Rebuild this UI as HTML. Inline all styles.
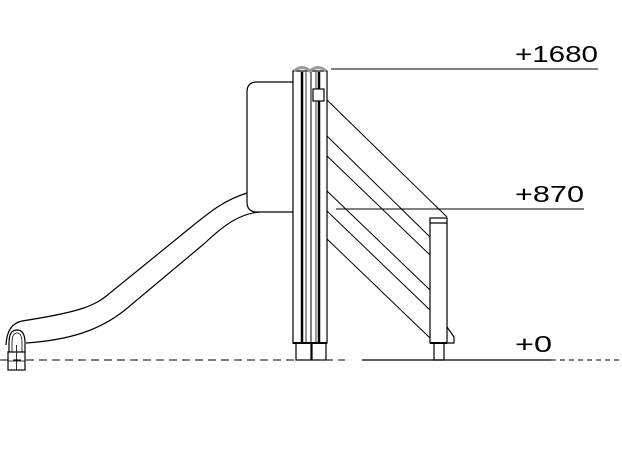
<!DOCTYPE html>
<html><head><style>html,body{margin:0;padding:0;background:#fff}</style></head>
<body>
<svg width="622" height="462" viewBox="0 0 622 462" xmlns="http://www.w3.org/2000/svg" style="display:block">
<g fill="none" stroke="#000" stroke-width="1.2">
<line x1="0" y1="360" x2="345" y2="360" stroke-dasharray="8,5" stroke-width="1"/>
<line x1="362" y1="360" x2="551" y2="360" stroke-width="1.2"/>
<line x1="551" y1="360" x2="622" y2="360" stroke-dasharray="5,4" stroke-width="1"/>
<line x1="331" y1="69" x2="598" y2="69" stroke-width="1"/>
<line x1="336" y1="209" x2="584" y2="209" stroke-width="1"/>
<path d="M293,82 H257 Q247,82 247,92 V202 Q247,212 257,212 H293"/>
<path d="M247,193 C225,200 212,210 190,228 L110,293 C95,306 80,312 22,321 Q7,324 6,345"/>
<path d="M259,212 C240,214 225,224 205,243 L125,310 C100,330 70,340 26,343"/>
<path d="M9,352 V343 Q9,330 17,330 Q25,330 25,343 V352"/>
<path d="M12,352 V343 Q12,333 17,333 Q22,333 22,343 V352" stroke-width="0.8"/>
<rect x="8" y="352" width="17" height="18"/>
<line x1="16.5" y1="345" x2="16.5" y2="370" stroke-width="0.8"/>
<line x1="8" y1="361" x2="25" y2="361" stroke-width="0.8"/>
<rect x="293" y="71" width="34" height="272" fill="#fff"/>
<line x1="302" y1="72" x2="302" y2="343" stroke-width="2.5"/>
<line x1="319" y1="72" x2="319" y2="343" stroke-width="2.5"/>
<line x1="306" y1="72" x2="306" y2="343" stroke-width="0.8"/>
<line x1="311" y1="72" x2="311" y2="343" stroke-width="1"/>
<line x1="316" y1="72" x2="316" y2="343" stroke-width="0.8"/>
<path d="M294,71 Q302,64 310,71 Q318,64 326,71" stroke="#999" stroke-width="3"/>
<rect x="313" y="89" width="11" height="12" fill="#fff"/>
<line x1="293" y1="343" x2="327" y2="343" stroke-width="2"/>
<rect x="296" y="343" width="15" height="17"/>
<rect x="312" y="343" width="14" height="17"/>
<line x1="327" y1="100" x2="447" y2="217" stroke-width="1"/>
<line x1="327" y1="136" x2="430" y2="237" stroke-width="1"/>
<line x1="327" y1="156" x2="430" y2="255" stroke-width="1"/>
<line x1="327" y1="191" x2="430" y2="290" stroke-width="1"/>
<line x1="327" y1="211" x2="430" y2="310" stroke-width="1"/>
<line x1="327" y1="239" x2="430" y2="338" stroke-width="1"/>
<rect x="430" y="218" width="17" height="125" fill="#fff"/>
<line x1="430" y1="223" x2="447" y2="223"/>
<path d="M447,327 L454,337 V343 H447"/>
<line x1="430" y1="343" x2="447" y2="343" stroke-width="2"/>
<rect x="434" y="343" width="10" height="17"/>
</g>
<g font-family="'Liberation Sans', 'DejaVu Sans', sans-serif" font-size="23" fill="#000">
<text x="515" y="62" textLength="83" lengthAdjust="spacingAndGlyphs">+1680</text>
<text x="515" y="202" textLength="69" lengthAdjust="spacingAndGlyphs">+870</text>
<text x="515" y="352" textLength="37" lengthAdjust="spacingAndGlyphs">+0</text>
</g>
</svg>
</body></html>
